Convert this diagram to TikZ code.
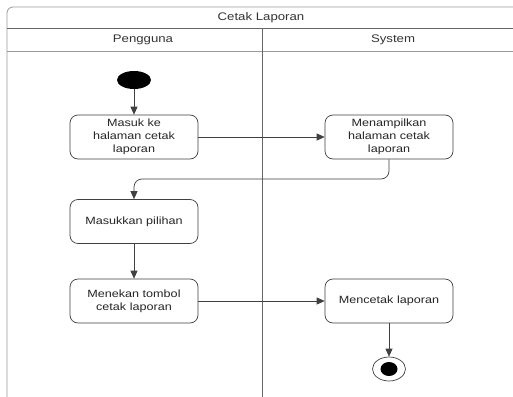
\documentclass[tikz,border=0pt]{standalone}
\usepackage{fontspec}
\setmainfont{Liberation Sans}[FakeStretch=1.2]
\usetikzlibrary{arrows.meta,shapes.geometric}
\begin{document}
\begin{tikzpicture}[x=1pt,y=-1pt,
  act/.style={draw=black!75, line width=0.7pt, rounded corners=8pt,
    minimum width=128pt, minimum height=44pt, align=center,
    font=\fontsize{10.5}{13}\selectfont, text=black!85, inner sep=2pt},
  flow/.style={draw=black!75, line width=0.7pt,
    -{Triangle[length=8pt,width=7pt]}},
  lane/.style={draw=black!40, line width=0.8pt},
  hdr/.style={font=\fontsize{11}{12}\selectfont, text=black!80}]
\useasboundingbox (0,0) rectangle (513,396);
\fill[white] (0,0) rectangle (513,396);
% swimlane frame
\draw[lane, rounded corners=6pt] (7,400) -- (7,7) -- (520,7);
\draw[lane, draw=black!60] (7,28) -- (520,28);
\draw[lane] (7,51) -- (520,51);
\draw[lane, draw=black!60] (262,28) -- (262,400);
\node[hdr] (title) at (261,17.5) {Cetak Laporan};
\node[hdr] (laneA) at (143,39.5) {Pengguna};
\node[hdr] (laneB) at (393,39.5) {System};
% activities
\node[ellipse, fill=black, minimum width=34pt, minimum height=18pt, inner sep=0pt] (start) at (134,80) {};
\node[act] (masuk) at (134,137) {Masuk ke\\halaman cetak\\laporan};
\node[act] (tampil) at (389,137) {Menampilkan\\halaman cetak\\laporan};
\node[act] (pilih) at (134,221.5) {Masukkan pilihan};
\node[act] (tekan) at (134,301) {Menekan tombol\\cetak laporan};
\node[act] (cetak) at (389,301) {Mencetak laporan};
\node[ellipse, draw=black!75, line width=0.7pt, minimum width=33pt, minimum height=24pt, inner sep=0pt] (end) at (389,369) {};
\node[ellipse, fill=black, minimum width=17pt, minimum height=14pt, inner sep=0pt] (endin) at (end.center) {};
\coordinate (turn) at (134,179);
% flows
\draw[flow] (start) -- (masuk);
\draw[flow] (masuk) -- (tampil);
\draw[flow, rounded corners=8pt] (tampil.south) |- (turn) -- (pilih.north);
\draw[flow] (pilih) -- (tekan);
\draw[flow] (tekan) -- (cetak);
\draw[flow] (cetak) -- (end);
\end{tikzpicture}
\end{document}
